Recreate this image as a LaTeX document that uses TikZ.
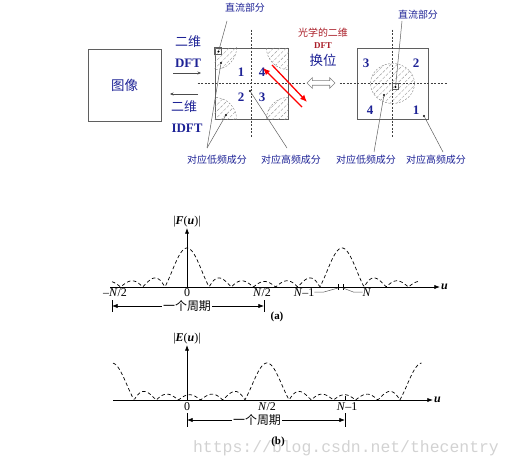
\documentclass[tikz,border=0pt]{standalone}
\usepackage{fontspec}
\setmainfont{Liberation Serif}
\newfontfamily\cjk{Noto Sans CJK SC}
\newfontfamily\markfont{Liberation Mono}
\usepackage{tikz}
\usetikzlibrary{arrows.meta,shapes.arrows,patterns.meta}
\tikzset{>={Latex[width=1.5mm,length=2mm]}}

\definecolor{inkblue}{RGB}{30,35,150}
\definecolor{inkred}{RGB}{170,30,40}
\definecolor{framegray}{RGB}{95,95,95}

\tikzset{
  frame/.style={shape=rectangle,draw=framegray,line width=0.8bp,inner sep=0bp},
  cjktag/.style={font=\cjk\fontsize{10}{12}\selectfont,text=inkblue,inner sep=1bp},
  quadnum/.style={font=\bfseries\fontsize{13}{13}\selectfont,text=inkblue,inner sep=0bp},
  guide/.style={draw=black!75,dash pattern=on 2bp off 1.5bp,line width=0.4bp},
  hatch/.style={draw=gray,dash pattern=on 2bp off 1.5bp,line width=0.4bp,
    pattern={Lines[angle=45,distance=4.5bp,line width=0.4bp]},pattern color=gray!80},
  pointer/.style={draw=framegray,line width=0.5bp},
  dot/.style={shape=circle,fill=black,inner sep=0bp,minimum size=2.4bp},
  swaparrow/.style={draw=red,line width=1.3bp,-{Latex[length=7bp,width=6bp]}},
  thinarrow/.style={draw=black!70,line width=0.5bp,-{Stealth[length=3.5bp,width=3bp]}},
  spectrum/.style={dash pattern=on 3.5bp off 2.5bp,line width=0.7bp},
  axisline/.style={line width=0.8bp,->},
  ticklabel/.style={font=\fontsize{12}{12}\selectfont,inner sep=0bp,anchor=north},
  period/.style={font=\cjk\fontsize{12}{12}\selectfont,inner sep=1bp}
}

\begin{document}
\begin{tikzpicture}[x=1bp,y=-1bp]
\useasboundingbox (0,0) rectangle (513,468);

% watermark
\path (346,448) node (wmark) [font=\markfont\fontsize{16.5}{17}\selectfont,text=gray!35]{https://blog.csdn.net/thecentry};

% image and the two spectra
\path (124.5,85) node (img) [frame,minimum width=73bp,minimum height=72bp,font=\cjk\fontsize{13.5}{14}\selectfont,text=inkblue]{图像};

\path (251.5,83.5) node (lbox) [frame,minimum width=73bp,minimum height=71bp]{};
\path (392.5,83.5) node (rbox) [frame,minimum width=71bp,minimum height=71bp]{};

\begin{scope}
\clip (lbox.north west) rectangle (lbox.south east);
\foreach \corner in {north west,north east,south west,south east}
  \path[hatch] (lbox.\corner) circle[radius=22];
\end{scope}
\path[hatch] (rbox.center) ellipse[x radius=22,y radius=20];

\draw[guide] ([yshift=18bp]lbox.north) -- ([yshift=-18bp]lbox.south);
\draw[guide] ([xshift=-17bp]lbox.west) -- ([xshift=17bp]lbox.east);
\draw[guide] ([yshift=18bp]rbox.north) -- ([yshift=-18bp]rbox.south);
\draw[guide] ([xshift=-17bp]rbox.west) -- ([xshift=19bp]rbox.east);

\draw[pointer] (lbox.north west) rectangle ++(7,7);
\draw[pointer] (rbox.center) rectangle ++(6,6);

\path (218.5,51.5) node (dcLdot) [dot]{};
\path (221,63) node (lowLdotA) [dot]{};
\path (226,115) node (lowLdotB) [dot]{};
\path (250,91) node (highLdot) [dot]{};
\path (395.5,87) node (dcRdot) [dot]{};
\path (384,95) node (lowRdot) [dot]{};
\path (424,116) node (highRdot) [dot]{};

% quadrant numbers
\path (241,72) node (qL1) [quadnum]{1};
\path (262,72) node (qL4) [quadnum]{4};
\path (241,97) node (qL2) [quadnum]{2};
\path (262,97) node (qL3) [quadnum]{3};
\path (366,63) node (qR3) [quadnum]{3};
\path (416,63) node (qR2) [quadnum]{2};
\path (370,110) node (qR4) [quadnum]{4};
\path (416,110) node (qR1) [quadnum]{1};

% DFT / IDFT
\path (188,42) node (fwd2d) [font=\cjk\fontsize{13}{14}\selectfont,text=inkblue]{二维};
\path (188,63) node (fwd) [font=\bfseries\fontsize{13}{14}\selectfont,text=inkblue]{DFT};
\path (184,107) node (inv2d) [font=\cjk\fontsize{13}{14}\selectfont,text=inkblue]{二维};
\path (187,128) node (inv) [font=\bfseries\fontsize{13}{14}\selectfont,text=inkblue]{IDFT};
\coordinate (fwdS) at (173,73);
\coordinate (fwdE) at (201,73);
\coordinate (invS) at (198,94);
\coordinate (invE) at (170,94);
\draw[thinarrow] (fwdS) -- (fwdE);
\draw[thinarrow] (invS) -- (invE);

% optical swap
\path (323,33) node (optic) [font=\cjk\fontsize{10}{11}\selectfont,text=inkred]{光学的二维};
\path (323,46) node (opticdft) [font=\bfseries\fontsize{9}{10}\selectfont,text=inkred]{DFT};
\path (323,60) node (swap) [font=\cjk\fontsize{13.5}{14}\selectfont,text=inkblue]{换位};
\path (321,83) node (swapsign) [shape=double arrow,draw=gray,fill=white,line width=0.6bp,minimum height=28bp,minimum width=10bp,inner sep=2bp,double arrow head extend=3bp]{};
\coordinate (swapA1) at (302,107);
\coordinate (swapA2) at (263,68);
\coordinate (swapB1) at (272,65);
\coordinate (swapB2) at (307,102);
\draw[swaparrow] (swapA1) -- (swapA2);
\draw[swaparrow] (swapB1) -- (swapB2);

% labels and pointers
\path (245,8) node (dcL) [cjktag]{直流部分};
\path (418,15) node (dcR) [cjktag]{直流部分};
\path (217,160) node (lowL) [cjktag]{对应低频成分};
\path (291,160) node (highL) [cjktag]{对应高频成分};
\path (366,160) node (lowR) [cjktag]{对应低频成分};
\path (436,160) node (highR) [cjktag]{对应高频成分};
\coordinate (dcLtip) at (227,21);
\coordinate (lowLtip) at (207,148);
\coordinate (highLtip) at (287,148);
\coordinate (dcRtip) at (402,21);
\coordinate (lowRtip) at (374,152);
\coordinate (highRtip) at (443,152);
\draw[pointer] (dcLtip) -- (dcLdot);
\draw[pointer] (lowLtip) -- (lowLdotA);
\draw[pointer] (lowLtip) -- (lowLdotB);
\draw[pointer] (highLtip) -- (highLdot);
\draw[pointer] (dcRtip) -- (dcRdot);
\draw[pointer] (lowRtip) -- (lowRdot);
\draw[pointer] (highRtip) -- (highRdot);

% (a) spectrum before shifting
\coordinate (aL) at (110,287);
\coordinate (aR) at (440,287);
\coordinate (aO) at (187,287);
\coordinate (aTop) at (187,228);
\draw[axisline] (aL) -- (aR);
\draw[axisline] (aO) -- (aTop);
\path (aR) node (ua) [right,inner sep=1bp,font=\bfseries\itshape\fontsize{12}{12}\selectfont]{u};
\path (aTop) node (Fa) [above,inner sep=1bp,font=\fontsize{12}{12}\selectfont]{|\textbf{\textit{F}}(\textbf{\textit{u}})|};
\draw[spectrum] plot[domain=112:420,samples=300] (\x,{287-39*abs(sin(8.12903*(\x-187))/(7*sin(1.16129*(\x-187))))});
\path (115,288) node (aminus) [ticklabel]{–\textit{N}/2};
\path (187,288) node (azero) [ticklabel]{0};
\path (262,288) node (ahalf) [ticklabel]{\textit{N}/2};
\path (304,288) node (anm1) [ticklabel]{\textit{N}–1};
\path (367,288) node (an) [ticklabel]{\textit{N}};
\draw[line width=0.6bp] (338,284) -- (338,290);
\draw[line width=0.6bp] (343,284) -- (343,290);
\coordinate (tickNm1) at (338,288);
\coordinate (tickN) at (343,288);
\draw[pointer] (anm1.east) -- ++(9,0) -- (tickNm1);
\draw[pointer] (an.west) -- ++(-9,0) -- (tickN);
\path (187,306) node (perA) [period]{一个周期};
\coordinate (perAL) at (112,306);
\coordinate (perAR) at (264,306);
\draw[->,line width=0.6bp] (perA) -- (perAL);
\draw[->,line width=0.6bp] (perA) -- (perAR);
\draw[line width=0.6bp] ([yshift=6bp]perAL) -- ([yshift=-6bp]perAL);
\draw[line width=0.6bp] ([yshift=6bp]perAR) -- ([yshift=-6bp]perAR);
\path (277,317) node (capa) [font=\bfseries\fontsize{11}{11}\selectfont]{(a)};

% (b) spectrum after shifting
\coordinate (bL) at (113,400);
\coordinate (bR) at (433,400);
\coordinate (bO) at (187,400);
\coordinate (bTop) at (187,345);
\draw[axisline] (bL) -- (bR);
\draw[axisline] (bO) -- (bTop);
\path (bR) node (ub) [right,inner sep=1bp,font=\bfseries\itshape\fontsize{12}{12}\selectfont]{u};
\path (bTop) node (Eb) [above,inner sep=1bp,font=\fontsize{12}{12}\selectfont]{|\textbf{\textit{E}}(\textbf{\textit{u}})|};
\draw[spectrum] plot[domain=113:421.5,samples=300] (\x,{400-37*abs(sin(8.12903*(\x-267))/(7*sin(1.16129*(\x-267))))});
\path (187,402) node (bzero) [ticklabel]{0};
\path (267,402) node (bhalf) [ticklabel]{\textit{N}/2};
\path (347,402) node (bnm1) [ticklabel]{\textit{N}–1};
\draw[line width=0.6bp] (345,396) -- (345,400);
\path (257,420) node (perB) [period]{一个周期};
\coordinate (perBL) at (187,420);
\coordinate (perBR) at (345,420);
\draw[->,line width=0.6bp] (perB) -- (perBL);
\draw[->,line width=0.6bp] (perB) -- (perBR);
\draw[line width=0.6bp] ([yshift=7bp]perBL) -- ([yshift=-7bp]perBL);
\draw[line width=0.6bp] ([yshift=7bp]perBR) -- ([yshift=-7bp]perBR);
\path (278,442) node (capb) [font=\bfseries\fontsize{11}{11}\selectfont]{(b)};

\end{tikzpicture}
\end{document}
